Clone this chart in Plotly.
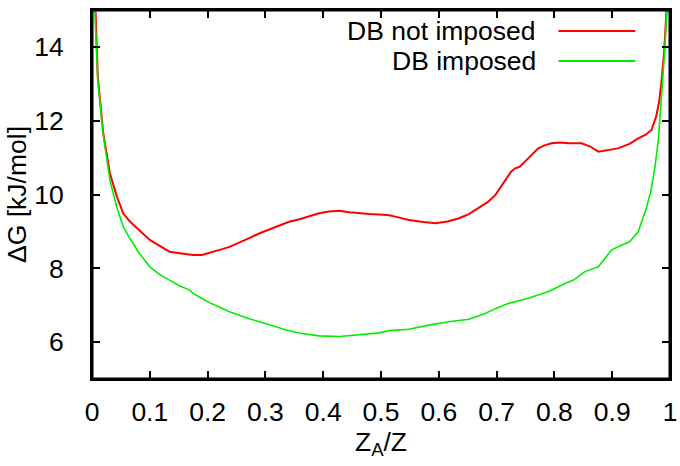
import plotly.graph_objects as go

# Data
red_x = [0.005, 0.01, 0.0195, 0.031, 0.043, 0.054, 0.066, 0.08, 0.1, 0.118, 0.134, 0.152,
         0.175, 0.19, 0.205, 0.221, 0.238, 0.255, 0.272, 0.29, 0.307, 0.324, 0.341, 0.359,
         0.376, 0.393, 0.41, 0.428, 0.445, 0.462, 0.48, 0.497, 0.514, 0.53, 0.548, 0.57,
         0.594, 0.615, 0.634, 0.652, 0.669, 0.685, 0.698, 0.715, 0.725, 0.732, 0.74, 0.749,
         0.76, 0.772, 0.783, 0.795, 0.81, 0.824, 0.847, 0.862, 0.876, 0.893, 0.91, 0.93,
         0.945, 0.958, 0.968, 0.976, 0.981, 0.985, 0.99, 0.994, 0.997]
red_y = [15.5, 13.19, 11.66, 10.57, 9.95, 9.49, 9.26, 9.05, 8.77, 8.60, 8.45, 8.41,
         8.36, 8.36, 8.42, 8.50, 8.58, 8.69, 8.82, 8.95, 9.06, 9.17, 9.26, 9.33,
         9.41, 9.49, 9.54, 9.56, 9.52, 9.49, 9.47, 9.46, 9.44, 9.38, 9.31, 9.26,
         9.22, 9.27, 9.35, 9.47, 9.63, 9.80, 9.99, 10.39, 10.62, 10.71, 10.75, 10.89,
         11.05, 11.25, 11.33, 11.39, 11.41, 11.39, 11.39, 11.30, 11.16, 11.20, 11.25, 11.37,
         11.52, 11.62, 11.75, 12.11, 12.5, 13.01, 13.9, 15.0, 15.6]

green_x = [0.004, 0.01, 0.0195, 0.031, 0.043, 0.054, 0.066, 0.08, 0.1, 0.118, 0.134, 0.152,
           0.169, 0.175, 0.19, 0.203, 0.22, 0.238, 0.255, 0.272, 0.29, 0.31, 0.336, 0.36,
           0.393, 0.428, 0.462, 0.497, 0.514, 0.548, 0.583, 0.617, 0.652, 0.681, 0.70,
           0.721, 0.755, 0.79, 0.807, 0.818, 0.833, 0.853, 0.876, 0.899, 0.915, 0.930,
           0.945, 0.959, 0.967, 0.974, 0.98, 0.985, 0.99, 0.994, 0.997]
green_y = [15.3, 13.1, 11.6, 10.39, 9.65, 9.13, 8.80, 8.45, 8.04, 7.82, 7.68, 7.52,
           7.41, 7.32, 7.18, 7.07, 6.95, 6.82, 6.73, 6.63, 6.55, 6.45, 6.33, 6.24,
           6.17, 6.15, 6.19, 6.25, 6.31, 6.35, 6.46, 6.55, 6.62, 6.78, 6.92,
           7.05, 7.19, 7.37, 7.50, 7.59, 7.68, 7.91, 8.04, 8.5, 8.62, 8.72,
           8.99, 9.63, 10.1, 10.75, 11.5, 12.56, 13.7, 14.8, 15.5]

series_names = ["DB not imposed", "DB imposed"]
series_colors = ["#ff0000", "#00ee00"]

x_ticks = [0, 0.1, 0.2, 0.3, 0.4, 0.5, 0.6, 0.7, 0.8, 0.9, 1]
x_tick_labels = ["0", "0.1", "0.2", "0.3", "0.4", "0.5", "0.6", "0.7", "0.8", "0.9", "1"]
y_ticks = [6, 8, 10, 12, 14]
y_tick_labels = ["6", "8", "10", "12", "14"]

FONT = "Liberation Sans, Arial, sans-serif"
FS = 26.5

fig = go.Figure()
fig.add_trace(go.Scatter(x=red_x, y=red_y, mode="lines", name=series_names[0],
                         line=dict(color=series_colors[0], width=2), showlegend=False))
fig.add_trace(go.Scatter(x=green_x, y=green_y, mode="lines", name=series_names[1],
                         line=dict(color=series_colors[1], width=1.6), showlegend=False))

axis_common = dict(showgrid=False, zeroline=False, showline=True, linecolor="#000000",
                   linewidth=2, mirror="allticks", ticks="inside", ticklen=8,
                   tickwidth=2, tickcolor="#000000",
                   tickfont=dict(family=FONT, size=FS, color="black"))

fig.update_xaxes(range=[0, 1], tickvals=x_ticks, ticktext=x_tick_labels,
                 ticklabelstandoff=8, automargin="height",
                 title=dict(text="Z<sub>A</sub>/Z", font=dict(family=FONT, size=FS, color="black"),
                            standoff=2),
                 **axis_common)
fig.update_yaxes(range=[5, 15], tickvals=y_ticks, ticktext=y_tick_labels,
                 ticklabelstandoff=21, automargin="width",
                 title=dict(text="ΔG [kJ/mol]", font=dict(family=FONT, size=FS, color="black"),
                            standoff=0),
                 **axis_common)

# Plot frame (gnuplot border)
fig.add_shape(type="rect", xref="paper", yref="paper", x0=0, x1=1, y0=0, y1=1,
              line=dict(color="#000000", width=3), layer="above")

# Legend drawn manually (gnuplot style, long sample lines)
leg_y = [0.943, 0.862]
for name, color, yy in zip(series_names, series_colors, leg_y):
    fig.add_annotation(x=0.772, y=yy, xref="paper", yref="paper", text=name,
                       showarrow=False, xanchor="right", yanchor="middle",
                       font=dict(family=FONT, size=FS, color="black"))
    fig.add_shape(type="line", xref="paper", yref="paper", x0=0.807, x1=0.940,
                  y0=yy, y1=yy, line=dict(color=color, width=2))

fig.update_layout(width=680, height=466, plot_bgcolor="white", paper_bgcolor="white",
                  margin=dict(l=92, r=8, t=10, b=87))

fig.write_html("out.html", config={"displayModeBar": False},
               post_script="document.body.style.margin='0px';document.body.style.overflow='hidden';")
